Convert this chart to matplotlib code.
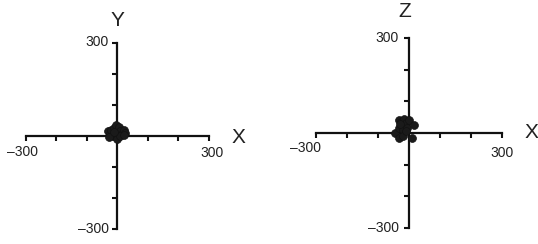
import numpy as np
import matplotlib.pyplot as plt

plt.rcParams['font.family'] = ['Liberation Sans', 'DejaVu Sans']

# data (units as on the axes)
xy_x = [-30, -25, -20, -15, -10, -5, 0, 5, 10, 15, 20, 25, -28, 0, 8, -12, 22]
xy_y = [15, 5, 20, 0, 25, 35, 10, 30, 15, 5, 20, 10, -3, -8, 0, 12, 2]

xz_x = [-45, -33, -25, -20, -15, -10, -30, -20, -5, 0, 16, 10, -32, -20, -8, -28]
xz_z = [0, 40, 35, 25, 45, 30, 15, 10, 15, 40, 25, -16, -15, -10, 5, 28]

lim = 300
ticks = [-300, -200, -100, 100, 200, 300]

fig = plt.figure(figsize=(5.38, 2.44), dpi=100)
ax1 = fig.add_axes([0.0483, 0.0615, 0.340, 0.762])
ax2 = fig.add_axes([0.587, 0.0656, 0.3457, 0.779])


def style(ax):
    ax.set_xlim(-lim, lim)
    ax.set_ylim(-lim, lim)
    for s in ['top', 'right']:
        ax.spines[s].set_visible(False)
    for s in ['left', 'bottom']:
        ax.spines[s].set_position(('data', 0))
        ax.spines[s].set_linewidth(1.6)
        ax.spines[s].set_color('#111111')
    ax.set_xticks(ticks)
    ax.set_yticks(ticks)
    ax.set_xticklabels([])
    ax.set_yticklabels([])
    ax.tick_params(direction='out', length=3.5, width=1.5, color='#111111')
    ax.patch.set_alpha(0)


style(ax1)
style(ax2)

ax1.scatter(xy_x, xy_y, s=32, color='#1a1a1a', edgecolors='#111111',
            linewidths=0.5, zorder=3, clip_on=False)
ax2.scatter(xz_x, xz_z, s=32, color='#1a1a1a', edgecolors='#111111',
            linewidths=0.5, zorder=3, clip_on=False)

tc = '#222222'
fs = 10
# left panel labels
ax1.text(0, 374, 'Y', fontsize=15, ha='center', va='center', color=tc, clip_on=False)
ax1.text(397, -6, 'X', fontsize=15, ha='center', va='center', color=tc, clip_on=False)
ax1.text(-312, -52, '\u2013300', fontsize=fs, ha='center', va='center', color=tc)
ax1.text(310, -55, '300', fontsize=fs, ha='center', va='center', color=tc)
ax1.text(-30, 303, '300', fontsize=fs, ha='right', va='center', color=tc)
ax1.text(-28, -300, '\u2013300', fontsize=fs, ha='right', va='center', color=tc)

# right panel labels
ax2.text(-13, 382, 'Z', fontsize=15, ha='center', va='center', color=tc, clip_on=False)
ax2.text(397, 0, 'X', fontsize=15, ha='center', va='center', color=tc, clip_on=False)
ax2.text(-333, -47, '\u2013300', fontsize=fs, ha='center', va='center', color=tc)
ax2.text(302, -63, '300', fontsize=fs, ha='center', va='center', color=tc)
ax2.text(-34, 300, '300', fontsize=fs, ha='right', va='center', color=tc)
ax2.text(-30, -300, '\u2013300', fontsize=fs, ha='right', va='center', color=tc)

fig.savefig('out.png', dpi=100)
